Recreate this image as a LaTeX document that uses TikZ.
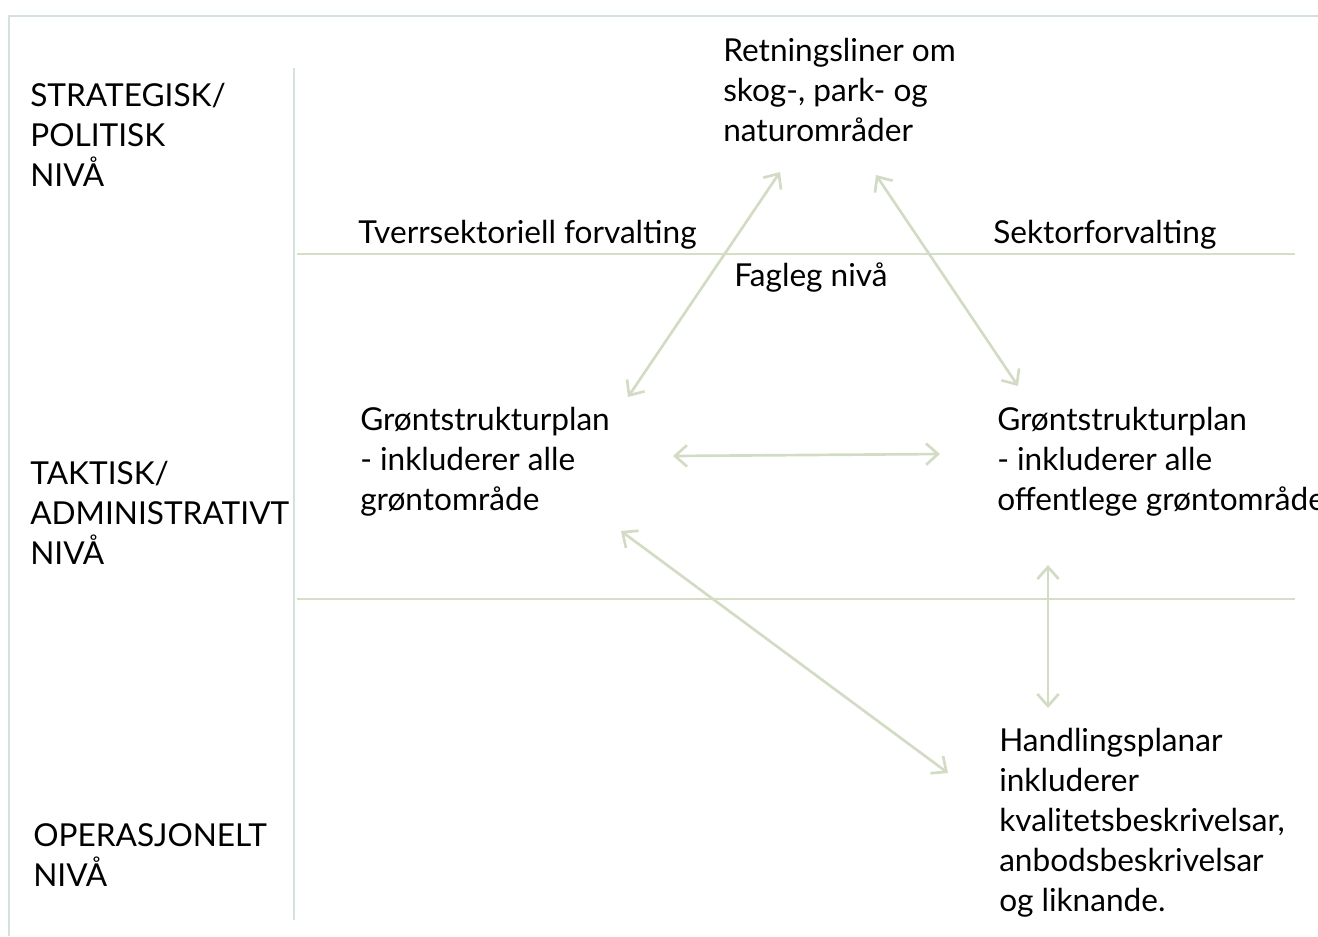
\documentclass[tikz,border=0pt]{standalone}
\usepackage{fontspec}
\setmainfont{Lato}
\usetikzlibrary{arrows.meta}
\definecolor{framec}{HTML}{D3E3DA}
\definecolor{linec}{HTML}{D5DFC6}
\definecolor{arrc}{HTML}{D2DCC4}
\tikzset{
  txt/.style={anchor=base west, align=left, inner sep=0pt, font=\fontsize{23.7}{30}\selectfont, text=black},
  frameline/.style={draw=framec, line width=2.2pt},
  divline/.style={draw=linec, line width=2pt},
  link/.style={draw=arrc, line width=2pt, {Straight Barb[length=9pt,width=16pt]}-{Straight Barb[length=9pt,width=16pt]}}
}
\begin{document}
\begin{tikzpicture}[x=0.75pt,y=-0.75pt]
\useasboundingbox (0,0) rectangle (1318,936);
% frame
\coordinate (fTR) at (1318,16);
\coordinate (fTL) at (9,16);
\coordinate (fBL) at (9,936);
\draw[frameline] (fTR) -- (fTL) -- (fBL);
% divider lines
\coordinate (vT) at (294,68);
\coordinate (vB) at (294,920);
\draw[frameline, line width=1.8pt] (vT) -- (vB);
\coordinate (h1L) at (297,254);
\coordinate (h1R) at (1295,254);
\coordinate (h2L) at (297,599);
\coordinate (h2R) at (1295,599);
\draw[divline] (h1L) -- (h1R);
\draw[divline] (h2L) -- (h2R);
% texts (anchored at the baseline of their last line)
\node[txt] (strat) at (30,186) {STRATEGISK/\\POLITISK\\NIVÅ};
\node[txt] (takt) at (30,564) {TAKTISK/\\ADMINISTRATIVT\\NIVÅ};
\node[txt] (oper) at (33,886) {OPERASJONELT\\NIVÅ};
\node[txt] (retn) at (723,141) {Retningsliner om\\skog-, park- og\\naturområder};
\node[txt] (tverr) at (358,243) {Tverrsektoriell forvalting};
\node[txt] (sektor) at (993,243) {Sektorforvalting};
\node[txt] (fagleg) at (734,286) {Fagleg nivå};
\node[txt] (gl) at (360,510) {Grøntstrukturplan\\- inkluderer alle\\grøntområde};
\node[txt] (gr) at (997,510) {Grøntstrukturplan\\- inkluderer alle\\offentlege grøntområde};
\node[txt] (handl) at (999,911) {Handlingsplanar\\inkluderer\\kvalitetsbeskrivelsar,\\anbodsbeskrivelsar\\og liknande.};
% arrow endpoints
\coordinate (a1s) at (628,397);
\coordinate (a1e) at (780,172);
\coordinate (a2s) at (876,175);
\coordinate (a2e) at (1018,386);
\coordinate (a3s) at (673,456);
\coordinate (a3e) at (940,454);
\coordinate (a4s) at (621,531);
\coordinate (a4e) at (948,773);
\coordinate (a5s) at (1048,565);
\coordinate (a5e) at (1048,708);
\draw[link] (a1s) -- (a1e);
\draw[link] (a2s) -- (a2e);
\draw[link] (a3s) -- (a3e);
\draw[link] (a4s) -- (a4e);
\draw[link] (a5s) -- (a5e);
\end{tikzpicture}
\end{document}
